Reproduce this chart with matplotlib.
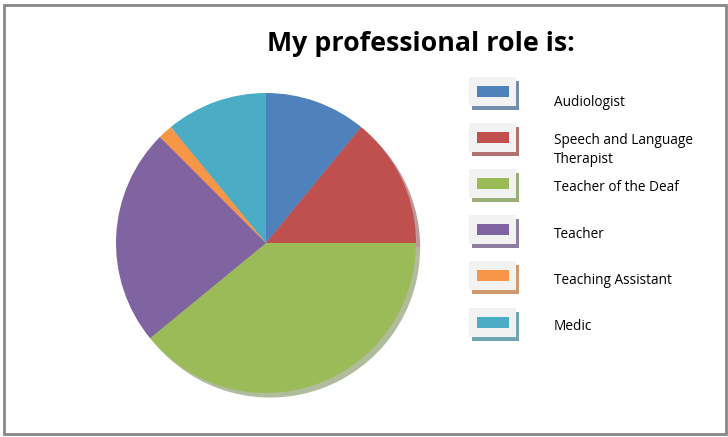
import matplotlib.pyplot as plt
from matplotlib.patches import Rectangle
import numpy as np

# data
roles = ['Audiologist', 'Speech and Language\nTherapist', 'Teacher of the Deaf',
         'Teacher', 'Teaching Assistant', 'Medic']
counts = [7, 9, 25, 15, 1, 7]
colores = ['#4F81BD', '#C0504D', '#9BBB59', '#8064A2', '#F79646', '#4BACC6']

W, H = 728, 437
fig = plt.figure(figsize=(W / 100, H / 100), dpi=100)

# fondo + marco en pixeles
bg = fig.add_axes([0, 0, 1, 1])
bg.set_xlim(0, W)
bg.set_ylim(H, 0)
bg.axis('off')
bg.add_patch(Rectangle((4, 5), 722, 429, fill=False, ec='#888888', lw=2))

bg.text(421, 44, 'My professional role is:', ha='center', va='center',
        fontsize=19.3, fontweight='bold', family='Open Sans')

#%% pie
ax = fig.add_axes([116 / W, 44 / H, 300 / W, 300 / H])
ax.pie(counts, colors=colores, startangle=90, counterclock=False,
       radius=1, wedgeprops={'linewidth': 0},
       shadow={'ox': 0.02, 'oy': -0.022, 'shade': 0.35})
ax.set_xlim(-1, 1)
ax.set_ylim(-1, 1)
ax.set_aspect('equal')
ax.axis('off')

#%% leyenda a mano (estilo excel)
def gris(c, f=0.55):
    rgb = np.array(plt.matplotlib.colors.to_rgb(c))
    return tuple(rgb * f + 0.62 * (1 - f))

y0 = 77
paso = 46.1
dy_texto = [25, 27, 18.5, 19, 19, 19.5]
for i, (rol, c) in enumerate(zip(roles, colores)):
    y = y0 + i * paso
    bg.add_patch(Rectangle((472, y + 4), 47, 29, fc=gris(c), ec='none'))
    bg.add_patch(Rectangle((469, y), 47, 29, fc='#f2f2f2', ec='none'))
    bg.add_patch(Rectangle((477, y + 9), 32, 11, fc=c, ec='none'))
    bg.text(554, y + dy_texto[i], rol, ha='left', va='center',
            fontsize=9.8, family='Open Sans', linespacing=1.4)

fig.savefig('out.png', dpi=100)
